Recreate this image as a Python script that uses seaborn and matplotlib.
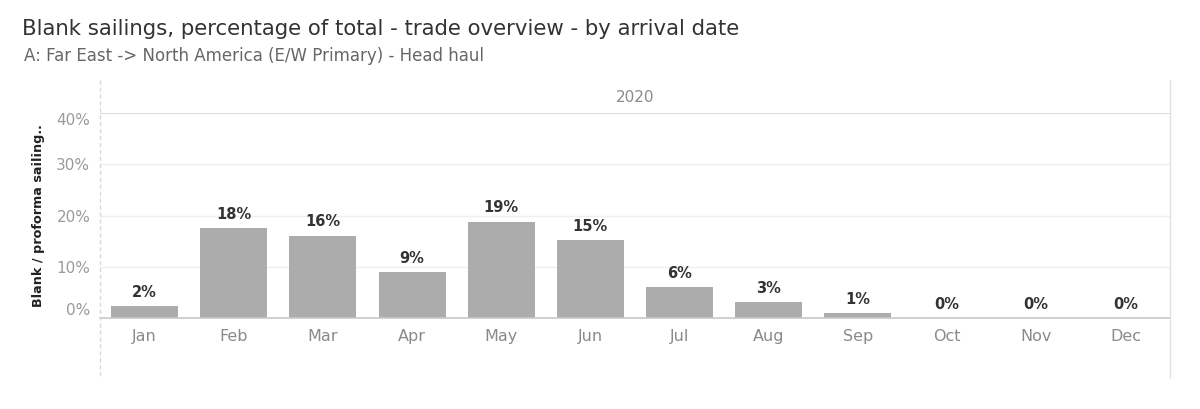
import numpy as np
import pandas as pd
import matplotlib
matplotlib.use("Agg")
import matplotlib.pyplot as plt
from matplotlib.lines import Line2D
import seaborn as sns

months = ["Jan", "Feb", "Mar", "Apr", "May", "Jun", "Jul", "Aug", "Sep", "Oct", "Nov", "Dec"]
blank_pct = [2.3, 17.6, 16.1, 9.0, 18.8, 15.2, 6.1, 3.1, 1.0, 0.0, 0.0, 0.0]
ytick_vals = [0, 10, 20, 30, 40]
ytick_labels = ["0%", "10%", "20%", "30%", "40%"]

sns.set_theme(style="white")
plt.rcParams["font.family"] = ["DejaVu Sans"]

df = pd.DataFrame({"month": months, "pct": blank_pct})

W, H = 1200, 409
fig = plt.figure(figsize=(12, 4.09), dpi=100)

def fx(px):
    return px / W

def fy(py):
    return 1 - py / H

ax = fig.add_axes([fx(100), fy(318.3), fx(1170) - fx(100), fy(112.7) - fy(318.3)])

sns.barplot(data=df, x="month", y="pct", color="#abacab", width=0.75,
            saturation=1, ax=ax, edgecolor="none")

ax.set_ylim(0, 40)
ax.set_xlim(-0.5, 11.5)
ax.set_yticks(ytick_vals)
ax.set_yticklabels(ytick_labels, color="#9a9a9a", fontsize=11)
ax.tick_params(axis="y", length=0, pad=7)
ax.tick_params(axis="x", length=0, pad=8, labelsize=11.5, labelcolor="#8a8a8a")
tl = ax.get_yticklabels()
tl[0].set_va("bottom")
tl[-1].set_va("top")

ax.set_xlabel("")
ax.set_ylabel("Blank / proforma sailing..", fontsize=9.2, fontweight="bold",
              color="#222222", labelpad=8)

for v in ytick_vals[1:-1]:
    ax.axhline(v, color="#efefef", lw=1, zorder=0)
ax.axhline(40, color="#dcdcdc", lw=1.5, zorder=0)

for s in ["left", "right", "top"]:
    ax.spines[s].set_visible(False)
ax.spines["bottom"].set_color("#c8c8c8")
ax.spines["bottom"].set_linewidth(1.2)

for i, v in enumerate(blank_pct):
    ax.text(i, v + 1.2, f"{round(v):.0f}%", ha="center", va="bottom",
            fontsize=10.5, color="#333333", fontweight="semibold")

# panel frame lines
fig.add_artist(Line2D([fx(100), fx(100)], [fy(80), fy(378)], color="#d8d8d8",
                      lw=1, linestyle=(0, (3, 2))))
fig.add_artist(Line2D([fx(1170), fx(1170)], [fy(80), fy(378)], color="#e2e2e2", lw=1))

fig.text(fx(635), fy(97), "2020", ha="center", va="center", fontsize=11, color="#8a8a8a")

fig.text(fx(22), fy(29), "Blank sailings, percentage of total - trade overview - by arrival date",
         ha="left", va="center", fontsize=15.3, color="#333333")
fig.text(fx(24), fy(56), "A: Far East -> North America (E/W Primary) - Head haul",
         ha="left", va="center", fontsize=12, color="#666666")

fig.savefig("out.png", dpi=100)
